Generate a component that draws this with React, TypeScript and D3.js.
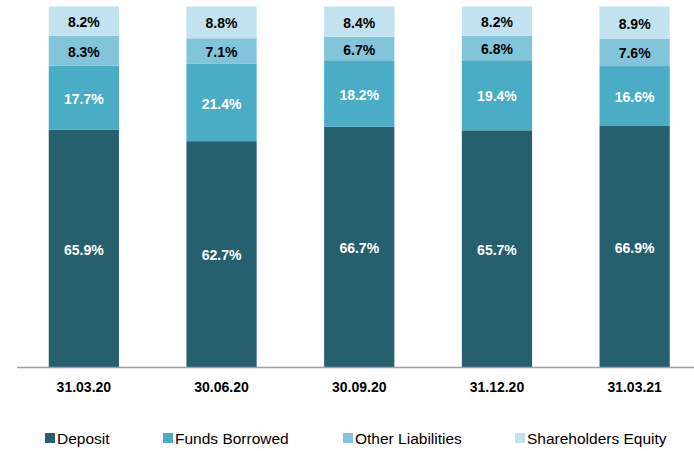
import React from "react";
import * as d3 from "d3";

const categories = ["31.03.20", "30.06.20", "30.09.20", "31.12.20", "31.03.21"];
const seriesNames = ["Deposit", "Funds Borrowed", "Other Liabilities", "Shareholders Equity"];
const deposit = [65.9, 62.7, 66.7, 65.7, 66.9];
const fundsBorrowed = [17.7, 21.4, 18.2, 19.4, 16.6];
const otherLiabilities = [8.3, 7.1, 6.7, 6.8, 7.6];
const shareholdersEquity = [8.2, 8.8, 8.4, 8.2, 8.9];
const seriesColors = ["#265F6E", "#4BACC6", "#82C5DA", "#C2E2EF"];
const labelColors = ["#ffffff", "#ffffff", "#000000", "#000000"];
const legendX = [45, 163, 343, 515];

const W = 694;
const H = 451;

export default function App() {
  const seriesValues = [deposit, fundsBorrowed, otherLiabilities, shareholdersEquity];
  const rows = categories.map((c, i) => {
    const r: any = { cat: c };
    seriesNames.forEach((s, j) => (r[s] = seriesValues[j][i]));
    return r;
  });
  const stack = d3.stack<any>().keys(seriesNames)(rows);
  const x = d3.scaleBand().domain(categories).range([15, 703.5]).paddingInner(0.49).paddingOuter(0.245);
  const y = d3.scaleLinear().domain([0, 100]).range([367.5, 6.5]);
  const font = "'Liberation Sans', Arial, sans-serif";

  return (
    <svg width={W} height={H} style={{ position: "absolute", left: 0, top: 0, background: "#fff" }}>
      {stack.map((layer, j) => (
        <g key={seriesNames[j]}>
          {layer.map((d, i) => (
            <rect
              key={i}
              x={x(categories[i])}
              width={x.bandwidth()}
              y={y(Math.min(d[1], 100))}
              height={y(d[0]) - y(Math.min(d[1], 100))}
              fill={seriesColors[j]}
            />
          ))}
        </g>
      ))}
      {stack.map((layer, j) => (
        <g key={"l" + j}>
          {layer.map((d, i) => (
            <text
              key={i}
              x={(x(categories[i]) as number) + x.bandwidth() / 2}
              y={(y(d[0]) + y(Math.min(d[1], 100))) / 2 + 1}
              textAnchor="middle"
              dominantBaseline="central"
              fontFamily={font}
              fontWeight="bold"
              fontSize={14}
              fill={labelColors[j]}
            >
              {seriesValues[j][i].toFixed(1)}%
            </text>
          ))}
        </g>
      ))}
      <line x1={17} x2={W} y1={367.5} y2={367.5} stroke="#A0A0A0" strokeWidth={1.5} />
      {categories.map((c) => (
        <text
          key={c}
          x={(x(c) as number) + x.bandwidth() / 2}
          y={387}
          textAnchor="middle"
          dominantBaseline="central"
          fontFamily={font}
          fontWeight="bold"
          fontSize={14}
          fill="#000"
        >
          {c}
        </text>
      ))}
      {seriesNames.map((s, j) => (
        <g key={s} transform={`translate(${legendX[j]},438)`}>
          <rect x={0} y={-5} width={10} height={10} fill={seriesColors[j]} />
          <text x={12} y={0} dominantBaseline="central" fontFamily={font} fontSize={15.5} fill="#000">
            {s}
          </text>
        </g>
      ))}
    </svg>
  );
}
